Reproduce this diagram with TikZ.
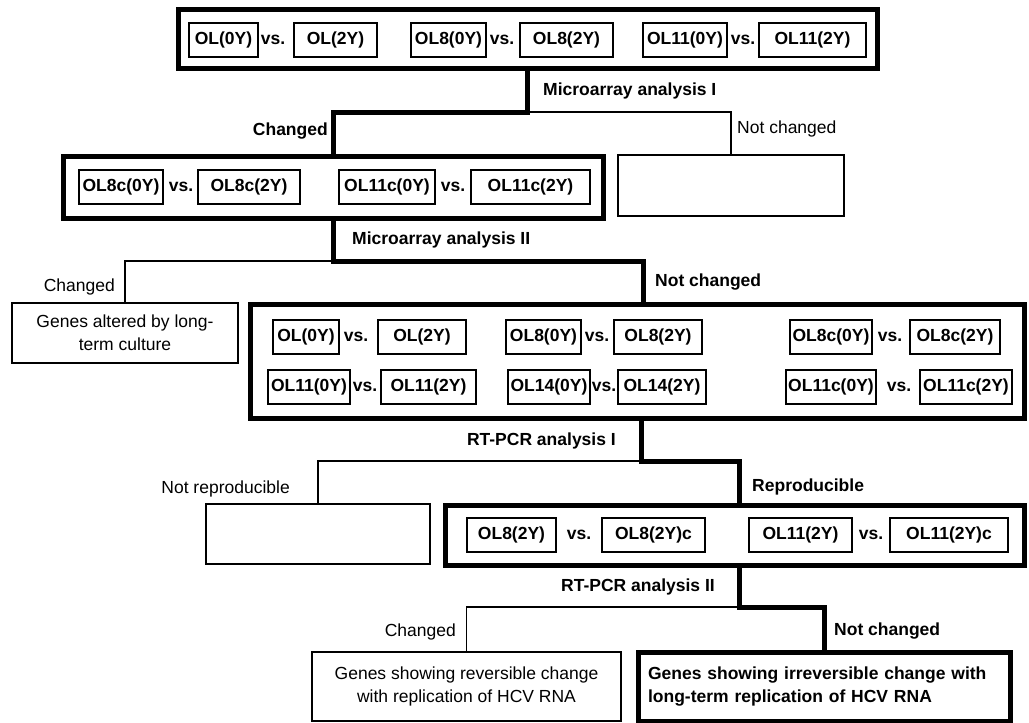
\documentclass[tikz,border=0pt]{standalone}
\usepackage{fontspec}
\setmainfont{Liberation Sans}
\begin{document}
\begin{tikzpicture}[x=1pt,y=-1pt,
  every node/.style={font=\fontsize{17.5}{23}\selectfont},
  bigthick/.style={draw, line width=5pt, inner sep=0pt},
  bigthin/.style={draw, line width=1.5pt, inner sep=0pt},
  smallbox/.style={draw, line width=1.8pt, inner sep=0pt, minimum height=34pt, font=\fontsize{17.5}{23}\selectfont\bfseries},
  vstext/.style={inner sep=0pt, font=\fontsize{17.5}{23}\selectfont\bfseries},
  boldlbl/.style={inner sep=0pt, font=\fontsize{17.5}{23}\selectfont\bfseries},
  plainlbl/.style={inner sep=0pt},
  thickc/.style={line width=5pt},
  thinc/.style={line width=1.5pt},
]
\useasboundingbox (0,0) rectangle (1029,723);

% big boxes
\node[bigthick, minimum width=699pt, minimum height=59pt] (top) at (527.5,38.5) {};
\node[bigthick, minimum width=540pt, minimum height=62pt] (box2) at (333,187) {};
\node[bigthin, minimum width=226pt, minimum height=61pt] (e1) at (731,185.5) {};
\node[bigthin, minimum width=226pt, minimum height=60pt, align=center] (g1) at (125,333) {Genes altered by long-\\term culture};
\node[bigthick, minimum width=774pt, minimum height=114pt] (box3) at (637,361) {};
\node[bigthin, minimum width=224pt, minimum height=60pt] (nr) at (318,534) {};
\node[bigthick, minimum width=579pt, minimum height=60pt] (rt) at (734.5,535) {};
\node[bigthin, minimum width=309pt, minimum height=69pt, align=center] (gr) at (466.5,686.5) {Genes showing reversible change\\with replication of HCV RNA};
\node[bigthick, minimum width=372pt, minimum height=69pt, text width=352pt, inner xsep=10pt, align=left, font=\fontsize{17.5}{23}\selectfont\bfseries] (gi) at (824,686.5) {Genes showing irreversible change with\\long-term replication of HCV RNA};

% top row
\node[smallbox, minimum width=69pt] (t1) at (223.5,40) {OL(0Y)};
\node[vstext] (t1v) at (273,40) {vs.};
\node[smallbox, minimum width=83pt] (t2) at (335.5,40) {OL(2Y)};
\node[smallbox, minimum width=75pt] (t3) at (448.5,40) {OL8(0Y)};
\node[vstext] (t3v) at (502,40) {vs.};
\node[smallbox, minimum width=93pt] (t4) at (566.5,40) {OL8(2Y)};
\node[smallbox, minimum width=84pt] (t5) at (685,40) {OL11(0Y)};
\node[vstext] (t5v) at (743,40) {vs.};
\node[smallbox, minimum width=107pt] (t6) at (812.5,40) {OL11(2Y)};

% box2 row
\node[smallbox, minimum width=84pt] (b1) at (121,187) {OL8c(0Y)};
\node[vstext] (b1v) at (181,187) {vs.};
\node[smallbox, minimum width=102pt] (b2) at (249,187) {OL8c(2Y)};
\node[smallbox, minimum width=96pt] (b3) at (387,187) {OL11c(0Y)};
\node[vstext] (b3v) at (453,187) {vs.};
\node[smallbox, minimum width=119pt] (b4) at (530.5,187) {OL11c(2Y)};

% box3 rows
\node[smallbox, minimum width=66pt] (r1) at (306,337) {OL(0Y)};
\node[vstext] (r1v) at (356,337) {vs.};
\node[smallbox, minimum width=88pt] (r2) at (422,337) {OL(2Y)};
\node[smallbox, minimum width=75pt] (r3) at (543.5,337) {OL8(0Y)};
\node[vstext] (r3v) at (597,337) {vs.};
\node[smallbox, minimum width=88pt] (r4) at (658,337) {OL8(2Y)};
\node[smallbox, minimum width=82pt] (r5) at (831,337) {OL8c(0Y)};
\node[vstext] (r5v) at (890,337) {vs.};
\node[smallbox, minimum width=90pt] (r6) at (955,337) {OL8c(2Y)};

\node[smallbox, minimum width=82pt] (s1) at (309,387) {OL11(0Y)};
\node[vstext] (s1v) at (365,387) {vs.};
\node[smallbox, minimum width=95pt] (s2) at (428.5,387) {OL11(2Y)};
\node[smallbox, minimum width=82pt] (s3) at (549,387) {OL14(0Y)};
\node[vstext] (s3v) at (604,387) {vs.};
\node[smallbox, minimum width=88pt] (s4) at (662,387) {OL14(2Y)};
\node[smallbox, minimum width=90pt] (s5) at (831,387) {OL11c(0Y)};
\node[vstext] (s5v) at (899,387) {vs.};
\node[smallbox, minimum width=92pt] (s6) at (966,387) {OL11c(2Y)};

% rt row
\node[smallbox, minimum width=89pt] (p1) at (511.5,535) {OL8(2Y)};
\node[vstext] (p1v) at (579,535) {vs.};
\node[smallbox, minimum width=103pt] (p2) at (653.5,535) {OL8(2Y)c};
\node[smallbox, minimum width=103pt] (p3) at (800.5,535) {OL11(2Y)};
\node[vstext] (p3v) at (871,535) {vs.};
\node[smallbox, minimum width=118pt] (p4) at (949,535) {OL11(2Y)c};

% junction levels
\coordinate (y1) at (0,112);
\coordinate (y2) at (0,261);
\coordinate (y3) at (0,461);
\coordinate (y4) at (0,607);
\coordinate (b3in) at ([xshift=6pt]box3.north);
\coordinate (b3out) at ([xshift=4pt]box3.south);
\coordinate (rtin) at ([xshift=5pt]rt.north);
\coordinate (rtout) at ([xshift=5pt]rt.south);

% connectors
\draw[thinc] (top.south |- y1) -| (e1.north);
\draw[thickc] (top.south) -- (top.south |- y1) -| (box2.north);
\draw[thinc] (box2.south |- y2) -| (g1.north);
\draw[thickc] (box2.south) -- (box2.south |- y2) -| (b3in);
\draw[thinc] (b3out |- y3) -| (nr.north);
\draw[thickc] (b3out) -- (b3out |- y3) -| (rtin);
\draw[thinc] (rtout |- y4) -| (gr.north);
\draw[thickc] (rtout) -- (rtout |- y4) -| (gi.north);

% labels
\node[boldlbl, anchor=west] (l1) at (543,91) {Microarray analysis I};
\node[boldlbl, anchor=east] (l2) at (328,131) {Changed};
\node[plainlbl, anchor=west] (l3) at (737,129) {Not changed};
\node[boldlbl, anchor=west] (l4) at (352,240) {Microarray analysis II};
\node[plainlbl, anchor=east] (l5) at (115,287) {Changed};
\node[boldlbl, anchor=west] (l6) at (655,282) {Not changed};
\node[boldlbl, anchor=east] (l7) at (616,441) {RT-PCR analysis I};
\node[plainlbl, anchor=east] (l8) at (290,489) {Not reproducible};
\node[boldlbl, anchor=west] (l9) at (752,487) {Reproducible};
\node[boldlbl, anchor=east] (l10) at (715,587) {RT-PCR analysis II};
\node[plainlbl, anchor=east] (l11) at (456,632) {Changed};
\node[boldlbl, anchor=west] (l12) at (834,631) {Not changed};
\end{tikzpicture}
\end{document}
